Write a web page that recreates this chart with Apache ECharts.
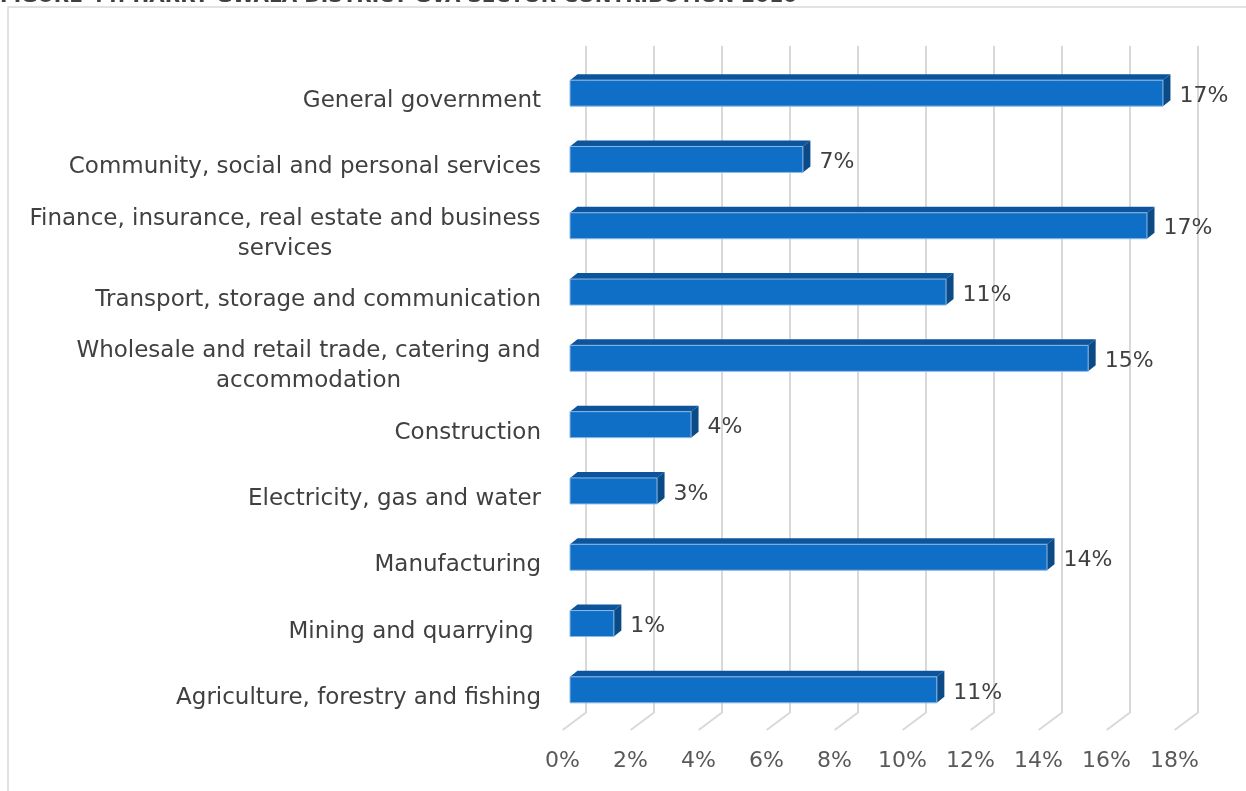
<!DOCTYPE html>
<html>
<head>
<meta charset="utf-8">
<script src="https://cdn.jsdelivr.net/npm/echarts@6/dist/echarts.min.js"></script>
<style>html,body{margin:0;padding:0;background:#fff;}#c{width:1246px;height:791px;}</style>
</head>
<body>
<div id="c"></div>
<script>
// ---- data ----
const titleText = 'FIGURE 44: HARRY GWALA DISTRICT GVA SECTOR CONTRIBUTION 2016';
const categories = [
  'General government',
  'Community, social and personal services',
  'Finance, insurance, real estate and business\nservices',
  'Transport, storage and communication',
  'Wholesale and retail trade, catering and\naccommodation',
  'Construction',
  'Electricity, gas and water',
  'Manufacturing',
  'Mining and quarrying ',
  'Agriculture, forestry and fishing'
];
const values = [17.44, 6.85, 16.97, 11.06, 15.24, 3.56, 2.56, 14.03, 1.29, 10.79];
const xTicks = [0, 2, 4, 6, 8, 10, 12, 14, 16, 18];

// ---- styling ----
const FONT = '"DejaVu Sans", sans-serif';
const FS = 23;
const FSX = 22;
const measureCtx = document.createElement('canvas').getContext('2d');
measureCtx.font = FS + 'px "DejaVu Sans"';
const rich = {};
categories.forEach((c, i) => {
  if (c.indexOf('\n') >= 0) {
    const w = Math.max.apply(null, c.split('\n').map(l => measureCtx.measureText(l).width));
    rich['c' + i] = { width: Math.ceil(w), align: 'center', fontFamily: FONT, fontSize: FS, color: '#404040', lineHeight: 30 };
  }
});
function labelFormatter(v, i) {
  if (v.indexOf('\n') < 0) return v;
  return v.split('\n').map(l => '{c' + i + '|' + l + '}').join('\n');
}

const DX = 7.5, DY = -6, BAR_H = 26;
const chart = echarts.init(document.getElementById('c'), null, { renderer: 'canvas' });

function renderBar(params, api) {
  const val = api.value(0), idx = api.value(1);
  const p0 = api.coord([0, idx]);
  const p1 = api.coord([val, idx]);
  const x0 = p0[0], x1 = p1[0];
  const yT = p0[1] - BAR_H / 2, yB = p0[1] + BAR_H / 2;
  return {
    type: 'group',
    children: [
      { type: 'polygon', shape: { points: [[x0, yT], [x0 + DX, yT + DY], [x1 + DX, yT + DY], [x1, yT]] },
        style: { fill: '#0C559C' } },
      { type: 'polygon', shape: { points: [[x1, yT], [x1 + DX, yT + DY], [x1 + DX, yB + DY], [x1, yB]] },
        style: { fill: '#0A4A87' } },
      { type: 'rect', shape: { x: x0, y: yT, width: x1 - x0, height: BAR_H },
        style: { fill: '#0F6FC6', stroke: '#8DB8E6', lineWidth: 1 } },
      { type: 'text', x: x1 + DX + 9, y: p0[1] + 3,
        style: { text: Math.round(val) + '%', font: FSX + 'px ' + FONT, fill: '#404040',
                 align: 'left', verticalAlign: 'middle' } }
    ]
  };
}

function renderGrid(params, api) {
  const t = api.value(0);
  const p = api.coord([t, 0]);
  const cs = params.coordSys;
  const x = p[0];
  const bottom = cs.y + cs.height;
  return {
    type: 'polyline',
    shape: { points: [[x + 16, cs.y - 14], [x + 16, bottom - 10.5], [x - 7.3, bottom + 7]] },
    style: { stroke: '#D9D9D9', lineWidth: 2, fill: null }
  };
}

const option = {
  animation: false,
  backgroundColor: '#ffffff',
  graphic: [
    { type: 'rect', shape: { x: 8, y: 7, width: 1260, height: 800 },
      style: { fill: null, stroke: '#D9D9D9', lineWidth: 1.5 }, z: 0 },
    { type: 'text', x: 0, y: -3.5,
      style: { text: titleText, font: 'bold 20px ' + FONT, fill: '#404040', align: 'left', verticalAlign: 'middle' } }
  ],
  grid: { left: 570, right: 64, top: 60, bottom: 68, containLabel: false },
  xAxis: {
    type: 'value', min: 0, max: 18, interval: 2,
    axisLine: { show: false }, axisTick: { show: false }, splitLine: { show: false },
    axisLabel: { formatter: '{value}%', fontFamily: FONT, fontSize: FSX, color: '#595959', margin: 27,
                 padding: [0, 15, 0, 0] }
  },
  yAxis: {
    type: 'category', data: categories, inverse: true,
    axisLine: { show: false }, axisTick: { show: false }, splitLine: { show: false },
    axisLabel: {
      fontFamily: FONT, fontSize: FS, color: '#404040', margin: 29, padding: [16, 0, 0, 0],
      lineHeight: 30,
      formatter: labelFormatter,
      rich: rich
    }
  },
  series: [
    { type: 'custom', renderItem: renderGrid, data: xTicks.map(t => [t, 0]), z: 1, silent: true },
    { type: 'custom', renderItem: renderBar, data: values.map((v, i) => [v, i]), z: 2 }
  ]
};
chart.setOption(option);
</script>
</body>
</html>
